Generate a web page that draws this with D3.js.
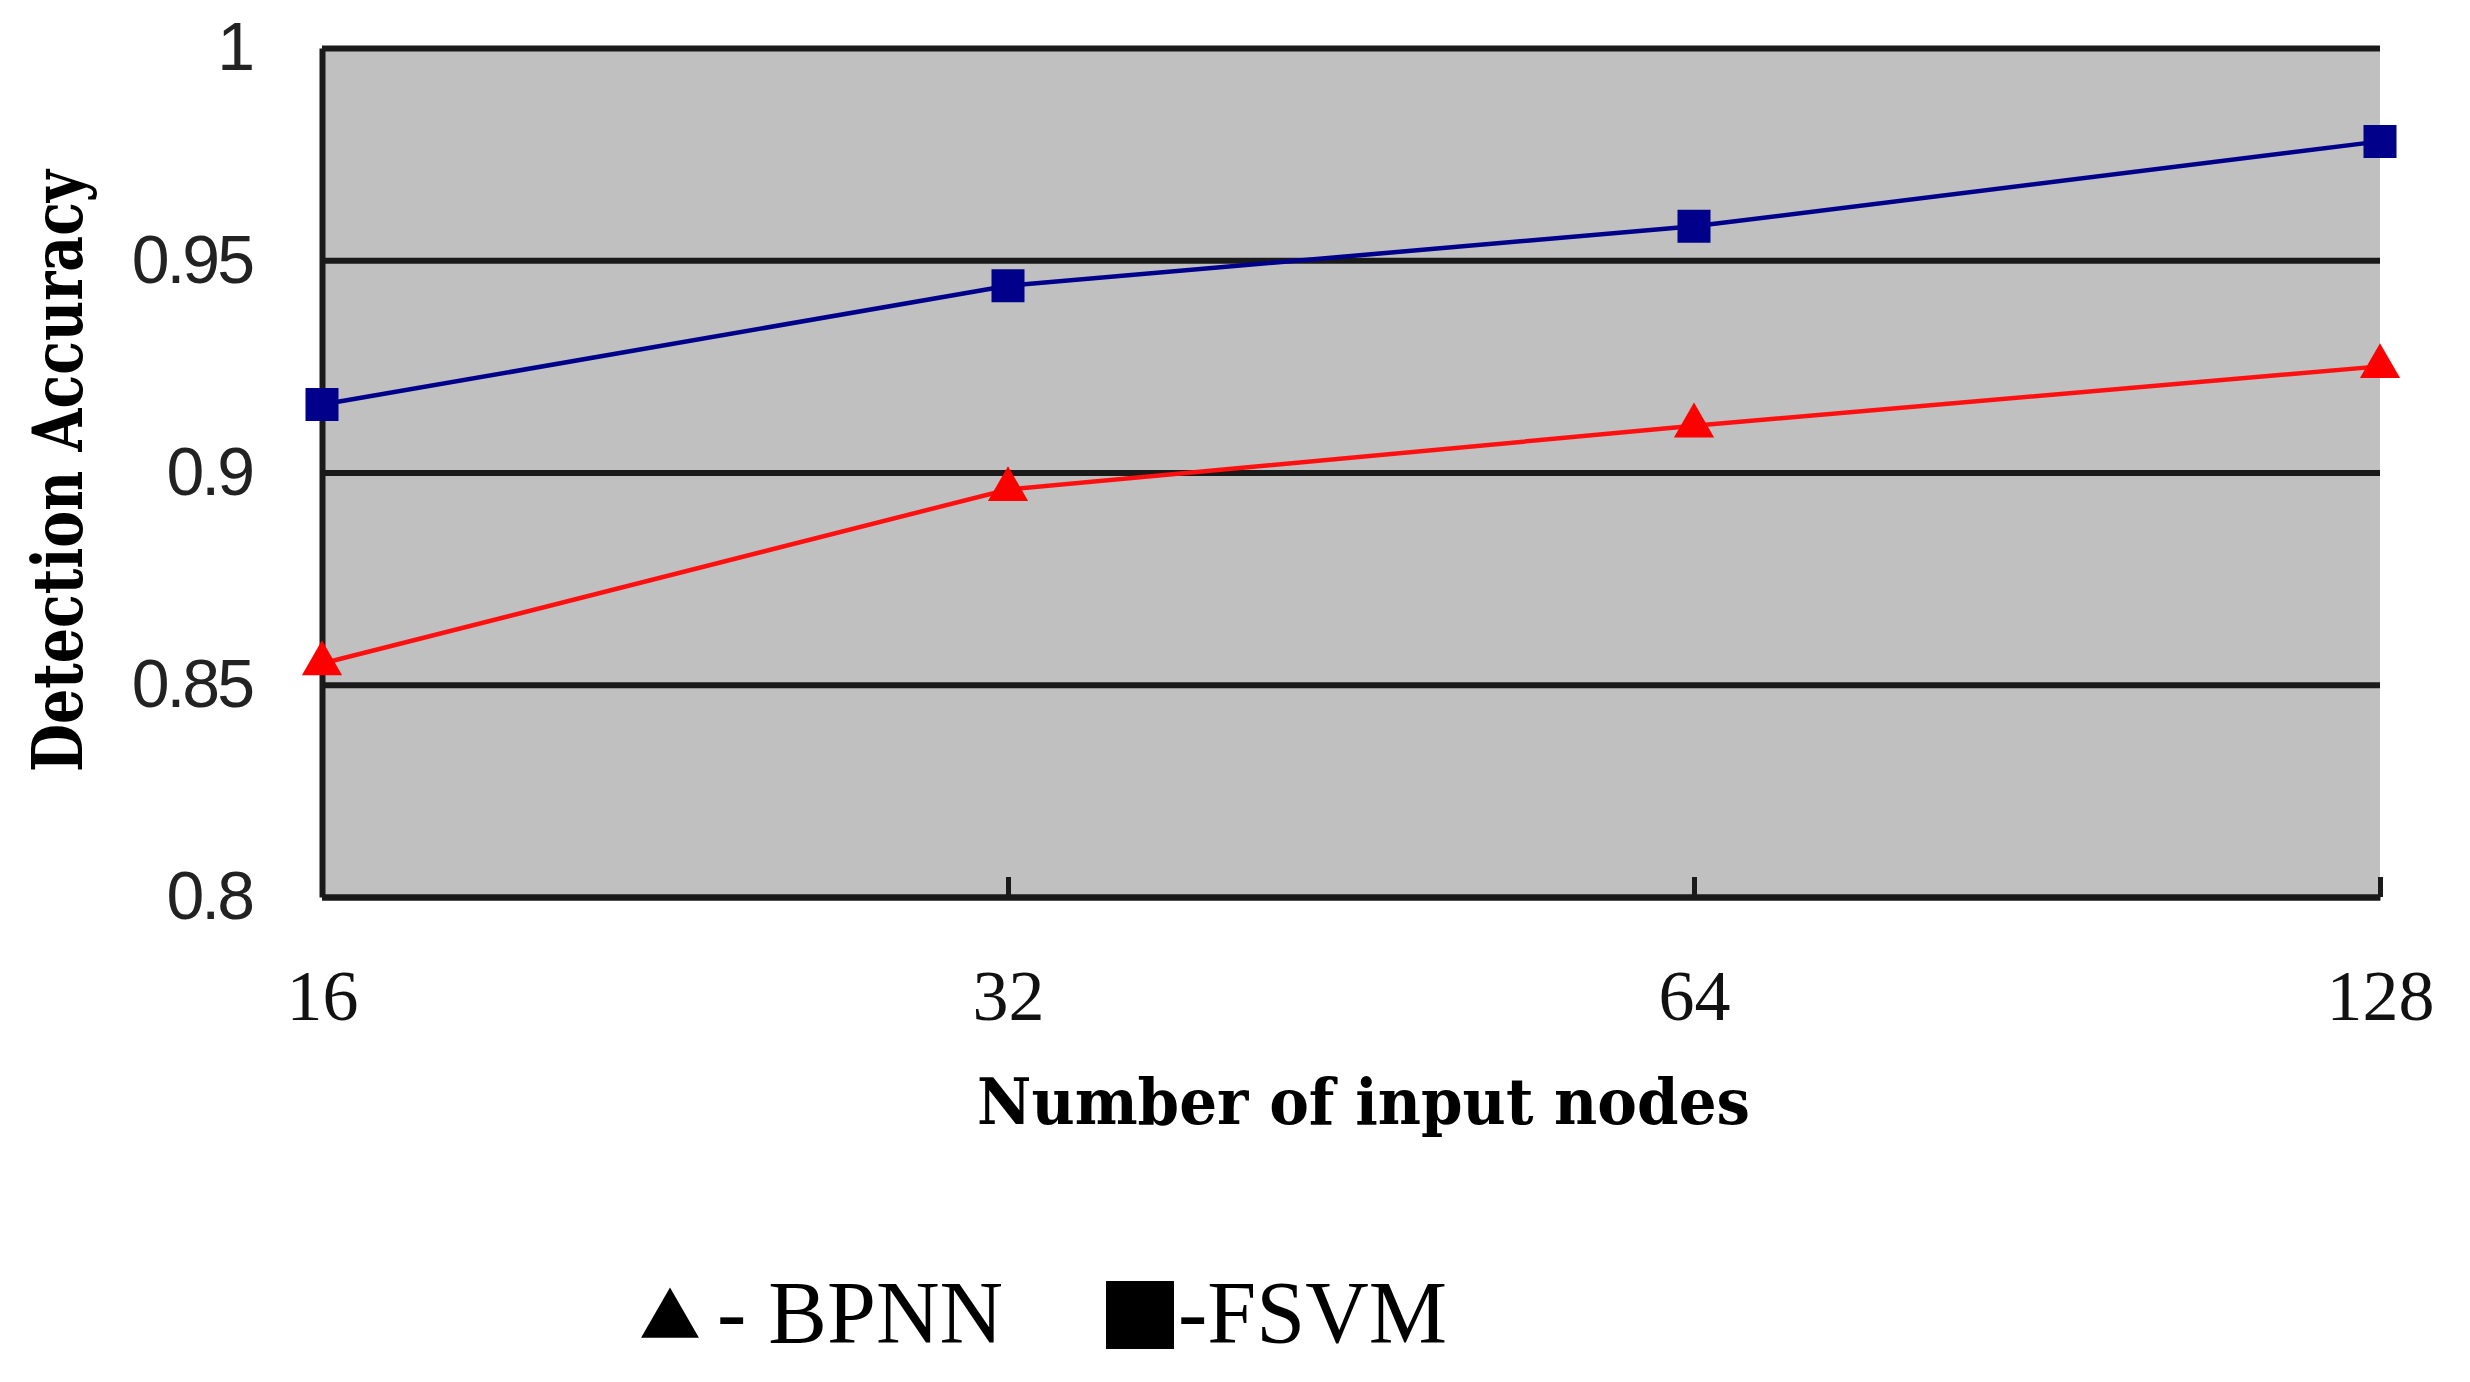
<!DOCTYPE html>
<html>
<head>
<meta charset="utf-8">
<script src="https://cdn.jsdelivr.net/npm/d3@7"></script>
<style>
  html, body { margin: 0; padding: 0; background: #ffffff; }
  svg { display: block; }
</style>
</head>
<body>
<svg id="chart" width="2470" height="1382"></svg>
<script>
// ---- data ----
const categories = ["16", "32", "64", "128"];
const bpnnValues = [0.855, 0.896, 0.911, 0.925];
const fsvmValues = [0.916, 0.944, 0.958, 0.978];
const yTicks = [0.8, 0.85, 0.9, 0.95, 1];
const yTickLabels = ["0.8", "0.85", "0.9", "0.95", "1"];
const seriesNames = ["BPNN", "FSVM"];
const xTitle = "Number of input nodes";
const yTitle = "Detection Accuracy";

// ---- layout ----
const plot = { left: 322, right: 2380, top: 48, bottom: 897 };

const svg = d3.select("#chart");

const x = d3.scalePoint().domain(categories).range([plot.left, plot.right]).padding(0);
const y = d3.scaleLinear().domain([0.8, 1]).range([plot.bottom, plot.top]);

// plot background
svg.append("rect")
  .attr("x", plot.left).attr("y", plot.top)
  .attr("width", plot.right - plot.left).attr("height", plot.bottom - plot.top)
  .attr("fill", "#c0c0c0");

// y axis with gridlines
const yAxis = svg.append("g")
  .attr("transform", `translate(${plot.left},0)`)
  .call(d3.axisLeft(y)
    .tickValues(yTicks)
    .tickFormat((d, i) => yTickLabels[i])
    .tickSize(-(plot.right - plot.left))
    .tickSizeOuter(0)
    .tickPadding(70));
yAxis.select(".domain").attr("stroke", "#1a1a1a").attr("stroke-width", 6);
yAxis.selectAll(".tick line").attr("stroke", "#1a1a1a").attr("stroke-width", 6);
yAxis.selectAll(".tick text")
  .attr("fill", "#222")
  .style("font-family", "'Liberation Sans Narrow', 'Liberation Sans', sans-serif")
  .style("font-size", "68px")
  .style("letter-spacing", "-3px");

// x axis
const xAxis = svg.append("g")
  .attr("transform", `translate(0,${plot.bottom})`)
  .call(d3.axisBottom(x).tickSize(-20).tickSizeOuter(0).tickPadding(0));
xAxis.select(".domain").attr("stroke", "#1a1a1a").attr("stroke-width", 6);
xAxis.selectAll(".tick line").attr("stroke", "#1a1a1a").attr("stroke-width", 5);
xAxis.selectAll(".tick text")
  .attr("y", 123).attr("dy", null)
  .attr("fill", "#111")
  .style("font-family", "'Liberation Serif', 'DejaVu Serif', serif")
  .style("font-size", "72px");

// lines
const lineGen = d3.line().x((d, i) => x(categories[i])).y(d => y(d));

svg.append("path").datum(bpnnValues)
  .attr("d", lineGen).attr("fill", "none")
  .attr("stroke", "#ff1010").attr("stroke-width", 4.5);
svg.append("path").datum(fsvmValues)
  .attr("d", lineGen).attr("fill", "none")
  .attr("stroke", "#00008b").attr("stroke-width", 4.5);

// markers
const triSmall = d3.symbol().type(d3.symbolTriangle).size(700);
const sqSmall = d3.symbol().type(d3.symbolSquare).size(1089);

svg.selectAll(".bp").data(bpnnValues).join("path")
  .attr("class", "bp")
  .attr("d", triSmall)
  .attr("transform", (d, i) => `translate(${x(categories[i])},${y(d)})`)
  .attr("fill", "#ff0000");
svg.selectAll(".fs").data(fsvmValues).join("path")
  .attr("class", "fs")
  .attr("d", sqSmall)
  .attr("transform", (d, i) => `translate(${x(categories[i])},${y(d)})`)
  .attr("fill", "#00008b");

// axis titles
svg.append("text")
  .attr("x", 977).attr("y", 1124)
  .attr("textLength", 773).attr("lengthAdjust", "spacingAndGlyphs")
  .style("font-family", "'DejaVu Serif', serif")
  .style("font-weight", "bold")
  .style("font-size", "64px")
  .attr("fill", "#000")
  .text(xTitle);

svg.append("text")
  .attr("transform", "translate(82,772) rotate(-90)")
  .attr("x", 0).attr("y", 0)
  .attr("textLength", 602).attr("lengthAdjust", "spacingAndGlyphs")
  .style("font-family", "'DejaVu Serif', serif")
  .style("font-weight", "bold")
  .style("font-size", "70px")
  .attr("fill", "#000")
  .text(yTitle);

// legend
const legendTri = d3.symbol().type(d3.symbolTriangle).size(1450);
const legendSq = d3.symbol().type(d3.symbolSquare).size(4624);

svg.append("path").attr("d", legendTri)
  .attr("transform", "translate(670,1321)").attr("fill", "#000");
svg.append("text")
  .attr("x", 717).attr("y", 1342)
  .style("font-family", "'Liberation Serif', serif")
  .style("font-size", "88px")
  .attr("fill", "#000")
  .text("- " + seriesNames[0]);

svg.append("path").attr("d", legendSq)
  .attr("transform", "translate(1140,1315)").attr("fill", "#000");
svg.append("text")
  .attr("x", 1178).attr("y", 1342)
  .style("font-family", "'Liberation Serif', serif")
  .style("font-size", "88px")
  .attr("fill", "#000")
  .text("-" + seriesNames[1]);
</script>
</body>
</html>
